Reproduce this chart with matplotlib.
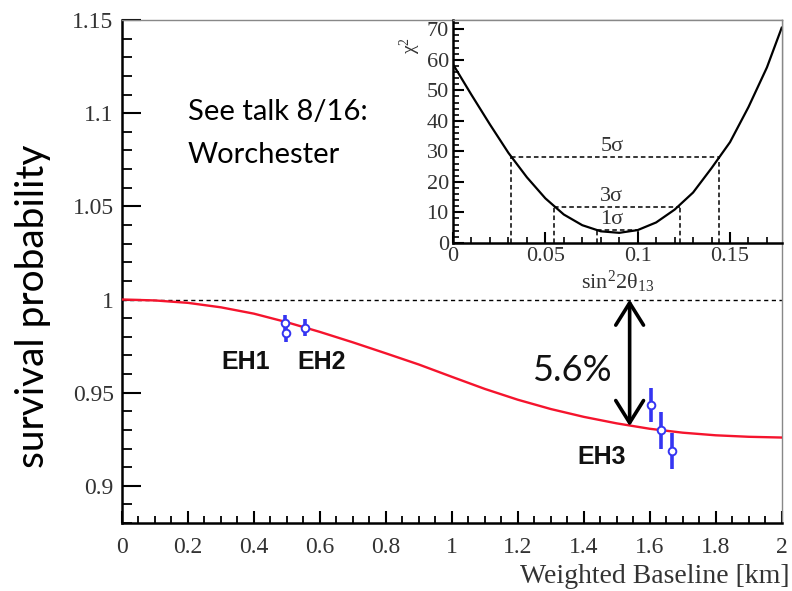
import matplotlib.pyplot as plt
import numpy as np
from matplotlib.ticker import MultipleLocator, FuncFormatter

plt.rcParams['mathtext.fontset'] = 'custom'
plt.rcParams['mathtext.rm'] = 'Liberation Serif'
plt.rcParams['mathtext.it'] = 'Liberation Serif:italic'

################################################
# Data
################################################

# expected survival probability vs weighted baseline
baseline_km = [0.0, 0.1, 0.2, 0.3, 0.4, 0.5, 0.6, 0.7, 0.8, 0.9, 1.0,
               1.1, 1.2, 1.3, 1.4, 1.5, 1.6, 1.7, 1.8, 1.9, 2.0]
survival = [1.0000, 0.9995, 0.9982, 0.9958, 0.9924, 0.9878, 0.9826, 0.9770,
            0.9711, 0.9651, 0.9585, 0.9520, 0.9462, 0.9412, 0.9370, 0.9335,
            0.9306, 0.9285, 0.9271, 0.9263, 0.9259]

# measured ratios per detector (EH1: 2 ADs, EH2: 1 AD, EH3: 3 ADs)
ad_baseline = [0.493, 0.498, 0.555, 1.605, 1.635, 1.667]
ad_ratio = [0.9873, 0.9819, 0.9849, 0.9435, 0.9297, 0.9188]
ad_err = [0.0045, 0.0045, 0.0045, 0.0090, 0.0097, 0.0097]

halls = ['EH1', 'EH2', 'EH3']
hall_x = [0.376, 0.606, 1.455]
hall_y = [0.9665, 0.9665, 0.9155]

# chi^2 scan vs sin^2(2 theta13)
s2t = [0.0, 0.01, 0.02, 0.03, 0.04, 0.05, 0.06, 0.07, 0.08, 0.09, 0.10,
       0.11, 0.12, 0.13, 0.14, 0.15, 0.16, 0.17, 0.178]
chi2 = [58.5, 48.5, 38.8, 29.5, 21.5, 14.6, 9.3, 5.8, 3.8, 3.3, 4.2,
        6.7, 10.9, 16.5, 24.5, 33.0, 44.5, 57.5, 70.5]

sigma_names = ['1σ', '3σ', '5σ']
sigma_level = [4.3, 11.8, 28.1]
sigma_lo = [0.078, 0.0546, 0.0314]
sigma_hi = [0.100, 0.1227, 0.1443]

deficit_at = 1.539
deficit_lo = 0.932

################################################

RED = '#f5142d'
BLUE = '#3535f2'
SERIF = 'Liberation Serif'
TICKCOL = '#333333'

fig = plt.figure(figsize=(7.92, 5.91), dpi=100)
ax = fig.add_axes([0.154, 0.115, 0.833, 0.851])

ax.axhline(1.0, color='black', lw=1.0, dashes=(3, 2.5))
ax.plot(baseline_km, survival, color=RED, lw=1.7, zorder=3)
ax.errorbar(ad_baseline, ad_ratio, yerr=ad_err, fmt='o', ms=5.5,
            mfc='white', mec=BLUE, mew=1.4, ecolor=BLUE, elinewidth=2.6,
            capsize=0, zorder=4)

for name, hx, hy in zip(halls, hall_x, hall_y):
    ax.text(hx, hy, name, ha='center', va='center', fontsize=18,
            fontweight='bold', family='Liberation Sans', color='#111111')

ax.annotate('', xy=(deficit_at, deficit_lo), xytext=(deficit_at, 1.0),
            arrowprops=dict(arrowstyle='<->,head_length=0.8,head_width=0.5',
                            lw=2.6, color='black', mutation_scale=20,
                            shrinkA=0, shrinkB=0), zorder=5)
ax.text(1.364, 0.9617, '5.6%', ha='center', va='center', fontsize=26,
        family='Lato', color='#111111')

ax.text(0.2, 1.1006, 'See talk 8/16:', ha='left', va='center', fontsize=21,
        family='Lato', color='black')
ax.text(0.2, 1.0776, 'Worchester', ha='left', va='center', fontsize=21,
        family='Lato', color='black')

ax.set_xlim(0, 2)
ax.set_ylim(0.88, 1.15)
ax.xaxis.set_major_locator(MultipleLocator(0.2))
ax.xaxis.set_minor_locator(MultipleLocator(0.05))
ax.yaxis.set_major_locator(MultipleLocator(0.05))
ax.yaxis.set_minor_locator(MultipleLocator(0.01))
fmt = FuncFormatter(lambda v, p: f'{v:.2f}'.rstrip('0').rstrip('.'))
ax.xaxis.set_major_formatter(fmt)
ax.yaxis.set_major_formatter(fmt)

ax.tick_params(axis='y', which='major', direction='in', length=14, width=1.5,
               labelsize=17, pad=6, labelcolor=TICKCOL)
ax.tick_params(axis='y', which='minor', direction='in', length=7, width=1.3)
ax.tick_params(axis='x', which='major', direction='in', length=9, width=1.5,
               labelsize=17, pad=10, labelcolor=TICKCOL)
ax.tick_params(axis='x', which='minor', direction='in', length=5, width=1.3)
for lab in ax.get_xticklabels() + ax.get_yticklabels():
    lab.set_family(SERIF)

for s in ['left', 'bottom']:
    ax.spines[s].set_linewidth(1.8)
for s in ['top', 'right']:
    ax.spines[s].set_linewidth(1.0)
    ax.spines[s].set_color('#888888')

ax.set_ylabel('survival probability', fontsize=28, family='Lato')
ax.yaxis.set_label_coords(-0.108, 0.43)
ax.set_xlabel('Weighted Baseline [km]', fontsize=20, family=SERIF,
              color=TICKCOL)
ax.xaxis.label.set_ha('right')
ax.xaxis.set_label_coords(1.012, -0.082)

# chi^2 inset
ins = fig.add_axes([0.572, 0.589, 0.415, 0.377])
ins.plot(s2t, chi2, color='black', lw=1.6)
for name, lev, lo, hi in zip(sigma_names, sigma_level, sigma_lo, sigma_hi):
    ins.plot([lo, hi], [lev, lev], color='black', lw=1.1, dashes=(3, 2))
    ins.plot([lo, lo], [0, lev], color='black', lw=1.1, dashes=(3, 2))
    ins.plot([hi, hi], [0, lev], color='black', lw=1.1, dashes=(3, 2))
    ins.text(0.086, lev + 0.4, name, ha='center', va='bottom', fontsize=16,
             family=SERIF, color=TICKCOL)

ins.set_xlim(0, 0.178)
ins.set_ylim(0, 73)
ins.xaxis.set_major_locator(MultipleLocator(0.05))
ins.xaxis.set_minor_locator(MultipleLocator(0.01))
ins.yaxis.set_major_locator(MultipleLocator(10))
ins.yaxis.set_minor_locator(MultipleLocator(2))
ins.xaxis.set_major_formatter(fmt)
ins.yaxis.set_major_formatter(fmt)
ins.tick_params(which='major', direction='in', length=8, width=1.5,
                labelsize=16, pad=3, labelcolor=TICKCOL)
ins.tick_params(which='minor', direction='in', length=4, width=1.2)
for lab in ins.get_xticklabels() + ins.get_yticklabels():
    lab.set_family(SERIF)
for s in ['left', 'bottom']:
    ins.spines[s].set_linewidth(1.8)
for s in ['top', 'right']:
    ins.spines[s].set_linewidth(1.0)
    ins.spines[s].set_color('#888888')

ins.set_xlabel('sin$^2$2θ$_{13}$', fontsize=16, family=SERIF,
               color=TICKCOL, labelpad=2)
ins.set_ylabel('χ$^2$', fontsize=14, family=SERIF, color=TICKCOL)
ins.yaxis.set_label_coords(-0.092, 0.885)

plt.savefig('out.png', dpi=100)
